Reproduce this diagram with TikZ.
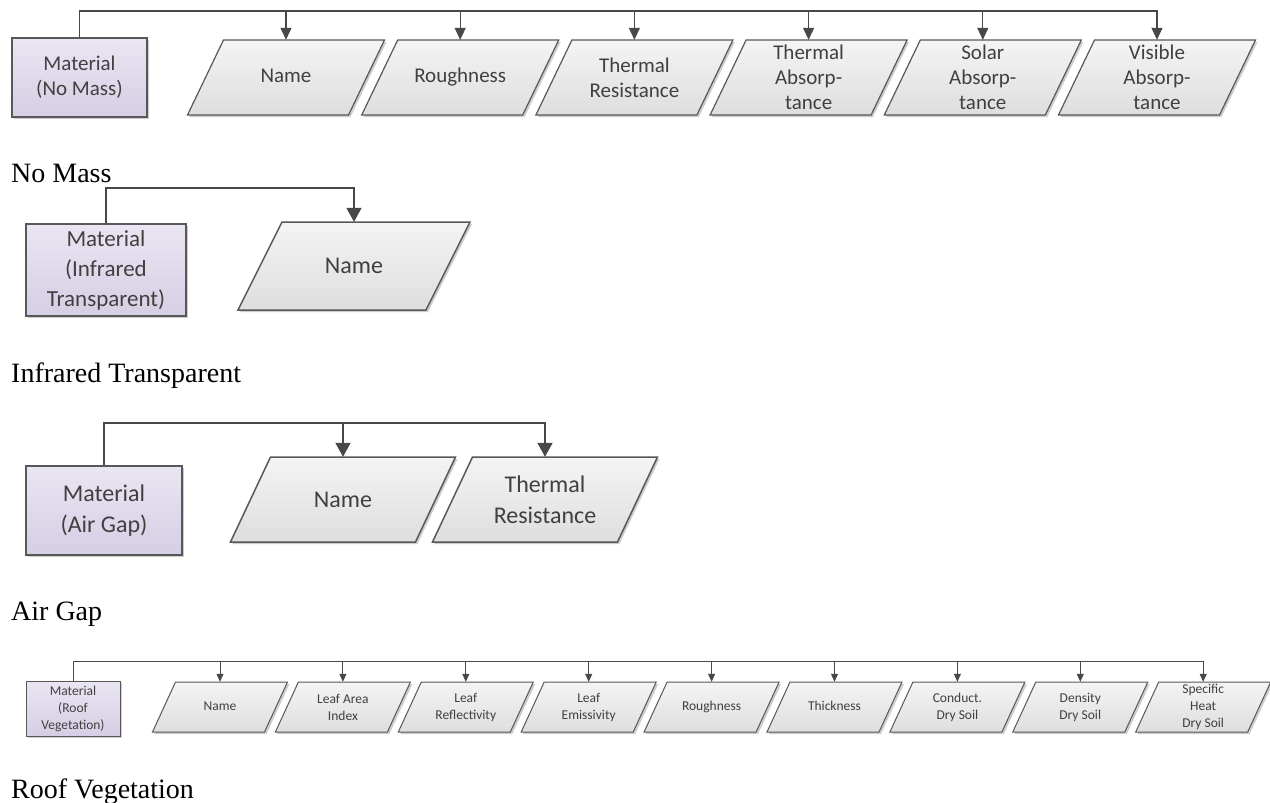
\documentclass[tikz,border=0pt]{standalone}
\usepackage{fontspec}
\setmainfont{Liberation Serif}
\newfontfamily\calfont{Carlito}
\usetikzlibrary{arrows.meta,shadows,calc}
\definecolor{matTop}{RGB}{234,229,242}
\definecolor{matBot}{RGB}{214,206,228}
\definecolor{paraTop}{RGB}{244,244,244}
\definecolor{paraBot}{RGB}{222,222,222}
\definecolor{boxline}{RGB}{88,88,88}
\definecolor{txt}{RGB}{64,64,64}
\definecolor{conn}{RGB}{72,72,72}
\definecolor{shadowc}{RGB}{205,205,205}
% #1 name, #2 cx, #3 cy, #4 edge width, #5 height, #6 skew, #7 line width, #8 text style, #9 text
\newcommand\paragram[9]{%
  \pgfmathsetmacro\paX{#2}\pgfmathsetmacro\paY{#3}%
  \pgfmathsetmacro\paL{\paX-#4/2}\pgfmathsetmacro\paR{\paX+#4/2}%
  \pgfmathsetmacro\paT{\paY-#5/2}\pgfmathsetmacro\paB{\paY+#5/2}\pgfmathsetmacro\paS{#6/2}%
  \fill[shadowc] (\paL-\paS+2,\paB+2) -- (\paL+\paS+2,\paT+2) -- (\paR+\paS+2,\paT+2) -- (\paR-\paS+2,\paB+2) -- cycle;
  \draw[draw=boxline, line width=#7, top color=paraTop, bottom color=paraBot]
    (\paL-\paS,\paB) -- (\paL+\paS,\paT) -- (\paR+\paS,\paT) -- (\paR-\paS,\paB) -- cycle;
  \node[ptext, #8, minimum width={#4+#6}, minimum height={#5}] (#1) at (\paX,\paY) {#9};
}
\begin{document}
\begin{tikzpicture}[x=1pt,y=-1pt,
  matbox/.style={draw=boxline, top color=matTop, bottom color=matBot, text=txt,
    align=center, inner sep=0pt,
    drop shadow={shadow xshift=2pt, shadow yshift=-2pt, fill=black, opacity=0.2}},
  ptext/.style={inner sep=0pt, align=center, text=txt},
  fA/.style={font=\calfont\fontsize{21}{25}\selectfont},
  fB/.style={font=\calfont\fontsize{23}{30}\selectfont},
  fC/.style={font=\calfont\fontsize{24}{31}\selectfont},
  fD/.style={font=\calfont\fontsize{13.5}{17}\selectfont},
  connA/.style={draw=conn, line width=1.3pt, -{Triangle[length=12pt,width=11pt]}},
  connB/.style={draw=conn, line width=1.6pt, -{Triangle[length=14pt,width=15pt]}},
  connD/.style={draw=conn, line width=1pt, -{Triangle[length=8pt,width=7pt]}},
  caption/.style={anchor=base west, inner sep=0pt, font=\fontsize{28}{32}\selectfont, text=black}
]
\useasboundingbox (0,0) rectangle (1270,803);
\fill[white] (0,0) rectangle (1270,803);

% ---------------- Row 1: No Mass ----------------
\node[matbox, fA, line width=1.2pt, minimum width=135pt, minimum height=79pt] (m1) at (79.5,77.5) {Material\\(No Mass)};
\foreach \t [count=\i] in {Name\strut, Roughness\strut, {Thermal\\Resistance}, {Thermal\\Absorp-\\tance}, {Solar\\Absorp-\\tance}, {Visible\\Absorp-\\tance}}{
  \paragram{p1\i}{286+174.2*(\i-1)}{77.5}{161}{75}{36}{1.2pt}{fA}{\t}
}
\coordinate (bus1) at (0,11);
\foreach \i in {1,...,6}{
  \draw[connA] (m1.north) |- (p1\i.north |- bus1) -- (p1\i.north);
}
\node[caption] (c1) at (11,182) {No Mass};

% ---------------- Row 2: Infrared Transparent ----------------
\node[matbox, fB, line width=1.5pt, minimum width=160pt, minimum height=92pt] (m2) at (106,270) {Material\\(Infrared\\Transparent)};
\paragram{p21}{354}{266}{188}{88}{44}{1.5pt}{fC}{Name}
\coordinate (bus2) at (0,188);
\draw[connB] (m2.north) |- (p21.north |- bus2) -- (p21.north);
\node[caption] (c2) at (11,382) {Infrared Transparent};

% ---------------- Row 3: Air Gap ----------------
\node[matbox, fC, line width=1.5pt, minimum width=156pt, minimum height=89pt] (m3) at (104,510.5) {Material\\(Air Gap)};
\paragram{p31}{343}{499.5}{185}{85}{40}{1.5pt}{fC}{Name}
\paragram{p32}{545}{499.5}{185}{85}{40}{1.5pt}{fC}{Thermal\\Resistance}
\coordinate (bus3) at (0,423);
\foreach \i in {1,2}{
  \draw[connB] (m3.north) |- (p3\i.north |- bus3) -- (p3\i.north);
}
\node[caption] (c3) at (11,620) {Air Gap};

% ---------------- Row 4: Roof Vegetation ----------------
\node[matbox, fD, line width=1pt, minimum width=94pt, minimum height=55pt] (m4) at (73,708.5) {Material\\(Roof\\Vegetation)};
\foreach \t [count=\i] in {Name\strut, {Leaf Area\\Index}, {Leaf\\Reflectivity}, {Leaf\\Emissivity}, Roughness\strut, Thickness\strut, {Conduct.\\Dry Soil}, {Density\\Dry Soil}, {Specific\\Heat\\Dry Soil}}{
  \paragram{p4\i}{220+122.9*(\i-1)}{707}{112}{50}{23}{1pt}{fD}{\t}
}
\coordinate (bus4) at (0,661);
\foreach \i in {1,...,9}{
  \draw[connD] (m4.north) |- (p4\i.north |- bus4) -- (p4\i.north);
}
\node[caption] (c4) at (11,798) {Roof Vegetation};
\end{tikzpicture}
\end{document}
